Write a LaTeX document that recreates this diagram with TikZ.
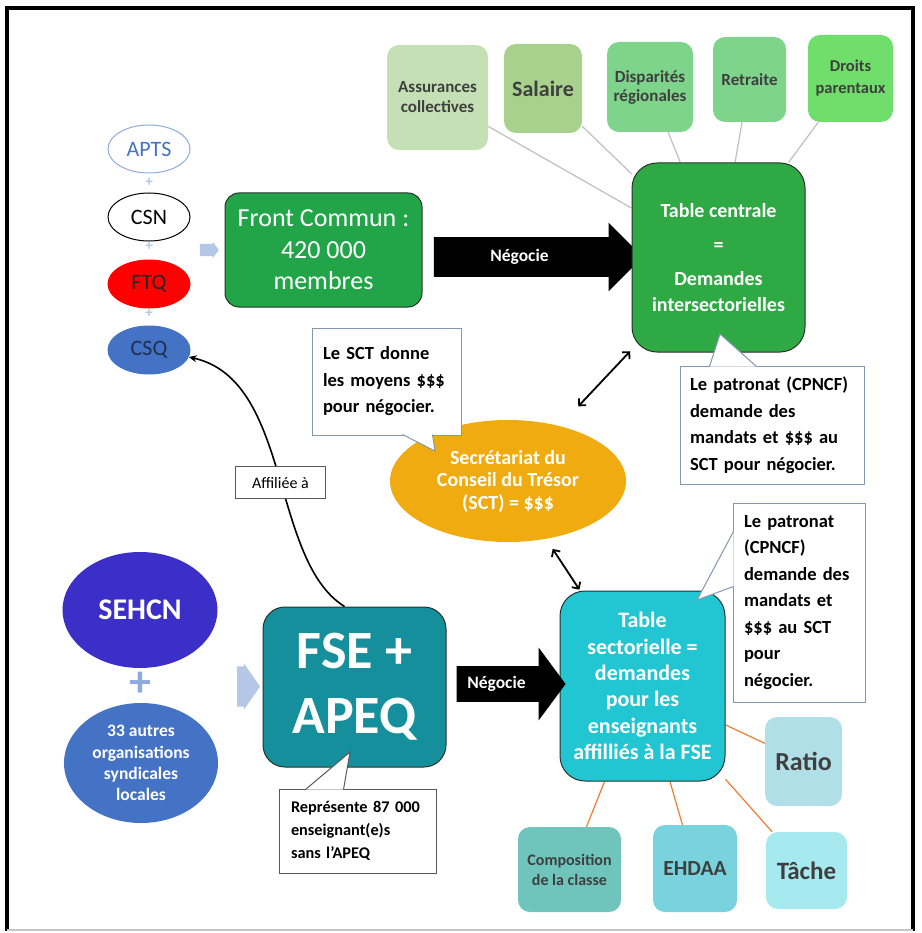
\documentclass[tikz,border=0pt]{standalone}
\usepackage{fontspec}
\setmainfont{Carlito}
\usetikzlibrary{positioning, shapes.geometric, shapes.arrows, arrows.meta, backgrounds}

\newcommand{\fsz}[2]{\fontsize{#1}{#2}\selectfont}

\definecolor{plusblue}{HTML}{B4C7E7}
\definecolor{aptsline}{HTML}{8FAADC}
\definecolor{unionblue}{HTML}{4472C4}
\definecolor{csqtext}{HTML}{1F2F4F}
\definecolor{frontgreen}{HTML}{21A548}
\definecolor{centralgreen}{HTML}{2EA944}
\definecolor{boxedge}{HTML}{25332B}
\definecolor{assurgreen}{HTML}{C5E0B4}
\definecolor{salairegreen}{HTML}{A9D18E}
\definecolor{dispargreen}{HTML}{7DD48A}
\definecolor{retraitegreen}{HTML}{7FD48C}
\definecolor{droitsgreen}{HTML}{70DE6A}
\definecolor{sctorange}{HTML}{EFAB10}
\definecolor{notegray}{HTML}{8497B0}
\definecolor{fsegray}{HTML}{595959}
\definecolor{sectcyan}{HTML}{22C6D3}
\definecolor{fseteal}{HTML}{148F9B}
\definecolor{sehcnblue}{HTML}{3B2FC8}
\definecolor{compoteal}{HTML}{6FC5BC}
\definecolor{ehdaacyan}{HTML}{78D3DE}
\definecolor{tachecyan}{HTML}{A6E9EF}
\definecolor{ratiocyan}{HTML}{B1DFE8}
\definecolor{spokegray}{HTML}{BFBFBF}
\definecolor{spokeorange}{HTML}{ED7D31}
\definecolor{topictext}{HTML}{3F3F3F}

\begin{document}
\begin{tikzpicture}[
  x = 1pt, y = -1pt,
  > = {Stealth[length=8pt, width=7pt]},
  every node/.style = {inner sep = 0pt}
  ]

  \tikzstyle{unionell}=[ellipse, minimum width=82pt, minimum height=48pt, line width=1pt, font=\fsz{22}{26}]
  \tikzstyle{plussign}=[text=plusblue, font=\fsz{15}{15}\bfseries]
  \tikzstyle{bigbox}=[rectangle, draw=boxedge, line width=1pt, align=center, text=white]
  \tikzstyle{demand}=[rectangle, rounded corners=12pt, align=center, text=topictext]
  \tikzstyle{callbox}=[rectangle, fill=white, line width=1pt, align=left, text=black, font=\fsz{18.5}{26.5}\bfseries]
  \tikzstyle{calltip}=[fill=white, line width=1pt, line join=miter]
  \tikzstyle{negotiate}=[single arrow, fill=black, text=white, font=\fsz{17.5}{20}\bfseries]
  \tikzstyle{feedarrow}=[single arrow, fill=plusblue]
  \tikzstyle{spoke}=[line width=1.2pt]
  \tikzstyle{link}=[<->, >={Straight Barb[length=5pt, width=10pt]}, line width=1.8pt]

  \useasboundingbox (0,0) rectangle (921,933);

  % frame
  \draw[black, line width=3.5pt] (7,931) -- (7,8) -- (913,8) -- (913,931);
  \draw[gray!45, line width=2.5pt] (7,930) -- (913,930);

  % unions of the Front commun
  \node[unionell, draw=aptsline, text=unionblue] (apts) at (149,149) {APTS};
  \node[unionell, draw=black] (csn) [below=19pt of apts] {CSN};
  \node[unionell, draw=red, fill=red, text=black!85] (ftq) [below=18pt of csn] {FTQ};
  \node[unionell, draw=unionblue, fill=unionblue, text=csqtext] (csq) [below=17pt of ftq] {CSQ};
  \node[plussign] (p1) at (149,182) {+};
  \node[plussign] (p2) at (149,246) {+};
  \node[plussign] (p3) at (149,313) {+};
  \node[feedarrow, minimum height=19pt, inner ysep=6pt, single arrow head extend=2pt,
    single arrow tip angle=106] (f1) at (207,250) {};

  \node[bigbox, fill=frontgreen, rounded corners=14pt, minimum width=197pt, minimum height=114pt,
    font=\fsz{26}{31.5}] (front) at (323.5,250) {Front Commun :\\420 000\\membres};
  \node[negotiate, minimum height=209pt, inner ysep=12pt, single arrow head extend=14.5pt,
    single arrow tip angle=90] (neg1) at (528.5,257) {N\'egocie\hspace*{18pt}};

  \node[bigbox, fill=centralgreen, rounded corners=25pt, minimum width=173pt, minimum height=189pt,
    font=\fsz{20}{26}\bfseries] (tcent) at (718.5,257.5)
    {Table centrale\\[8pt]=\\[8pt]Demandes\\intersectorielles};

  % intersectoral demands
  \node[demand, fill=assurgreen, minimum width=101pt, minimum height=105pt, font=\fsz{17}{20}\bfseries] (assur) at (437.5,97.5) {Assurances\\collectives};
  \node[demand, fill=salairegreen, minimum width=78pt, minimum height=89pt, font=\fsz{22}{26}\bfseries] (salaire) at (543,88.5) {Salaire};
  \node[demand, fill=dispargreen, minimum width=86pt, minimum height=90pt, font=\fsz{17}{19}\bfseries] (dispar) at (650,87) {Disparit\'es\\r\'egionales};
  \node[demand, fill=retraitegreen, minimum width=73pt, minimum height=85pt, font=\fsz{17}{20}\bfseries] (retraite) at (749.5,79.5) {Retraite};
  \node[demand, fill=droitsgreen, minimum width=85pt, minimum height=87pt, font=\fsz{16.5}{22}\bfseries] (droits) at (850.5,78.5) {Droits\\parentaux};

  % treasury
  \node[ellipse, fill=sctorange, minimum width=236pt, minimum height=122pt, align=center, text=white,
    font=\fsz{20}{22.5}\bfseries] (sct) at (508,481) {Secr\'etariat du\\Conseil du Tr\'esor\\(SCT) = \$\$\$};

  % sectoral table
  \node[bigbox, fill=sectcyan, rounded corners=25pt, minimum width=165pt, minimum height=190pt,
    font=\fsz{22}{26.3}\bfseries] (tsect) at (642.5,686)
    {Table\\sectorielle =\\demandes\\pour les\\enseignants\\affilli\'es \`a la FSE};

  \node[demand, fill=compoteal, minimum width=103pt, minimum height=85pt, font=\fsz{16}{20}\bfseries] (compo) at (569.5,869.5) {Composition\\de la classe};
  \node[demand, fill=ehdaacyan, minimum width=84pt, minimum height=87pt, font=\fsz{21.5}{24}\bfseries] (ehdaa) at (695,868.5) {EHDAA};
  \node[demand, fill=tachecyan, minimum width=81pt, minimum height=77pt, font=\fsz{25}{28}\bfseries] (tache) at (806.5,870.5) {T\^ache};
  \node[demand, fill=ratiocyan, minimum width=77pt, minimum height=89pt, font=\fsz{26}{28}\bfseries] (ratio) at (803.5,761.5) {Ratio};

  % local unions
  \node[ellipse, fill=sehcnblue, minimum width=155pt, minimum height=116pt, text=white,
    font=\fsz{30}{34}\bfseries] (sehcn) at (140,610) {SEHCN};
  \node[text=aptsline, font=\fsz{44}{44}\bfseries] (p4) at (140,684) {+};
  \node[ellipse, fill=unionblue, minimum width=154pt, minimum height=120pt, align=center, text=white,
    font=\fsz{17.5}{21.3}\bfseries] (autres) at (141,763) {33 autres\\organisations\\syndicales\\locales};
  \node[feedarrow, minimum height=23pt, inner ysep=20pt, single arrow head extend=3pt,
    single arrow tip angle=110] (f2) at (241.5,686.5) {};

  \node[bigbox, fill=fseteal, rounded corners=22pt, minimum width=183pt, minimum height=160pt,
    font=\fsz{54}{65}\bfseries] (fse) at (354.5,687) {FSE +\\APEQ};
  \node[negotiate, minimum height=109pt, inner ysep=10pt, single arrow head extend=18.5pt,
    single arrow tip angle=107] (neg2) at (504.5,684) {N\'egocie\hspace*{16pt}};

  % spokes
  \begin{scope}[on background layer]
    \foreach \d in {assur, salaire, dispar, retraite, droits}
      \draw[spoke, spokegray] (tcent) -- (\d);
    \foreach \d in {compo, ehdaa, tache, ratio}
      \draw[spoke, spokeorange] (tsect) -- (\d);
  \end{scope}

  % links
  \draw[link, shorten <=27pt, shorten >=2pt] (sct) -- (tcent);
  \draw[link, shorten <=12pt, shorten >=1pt] (sct) -- (tsect);
  \draw[->, line width=1.6pt] ([xshift=-10pt]fse.north) .. controls (270,560) and (292,380) .. (csq.-10)
    node[pos=.47, draw=fsegray, fill=white, line width=1pt, minimum width=90pt, minimum height=32pt,
      font=\fsz{16}{18}] (affil) {Affili\'ee \`a};

  % notes
  \node[callbox, draw=notegray, text width=127pt, inner xsep=11pt, minimum height=107pt] (sctnote) at (386.5,381.5)
    {Le SCT donne\\les moyens \$\$\$\\pour n\'egocier.};
  \coordinate (scttip) at (435,451);
  \filldraw[calltip, draw=notegray] ([xshift=91pt, yshift=1pt]sctnote.south west) -- (scttip) -- ([xshift=121pt, yshift=1pt]sctnote.south west);

  \node[callbox, draw=notegray, text width=164pt, inner xsep=10pt, minimum height=118pt] (centralnote) at (772,425)
    {Le patronat (CPNCF)\\demande des\\mandats et \$\$\$ au\\SCT pour n\'egocier.};
  \coordinate (centraltip) at (720,334);
  \filldraw[calltip, draw=notegray] ([xshift=30pt, yshift=-1pt]centralnote.north west) -- (centraltip) -- ([xshift=77pt, yshift=-1pt]centralnote.north west);

  \node[callbox, draw=notegray, text width=110pt, inner xsep=11pt, minimum height=199pt] (sectornote) at (799,602.5)
    {Le patronat\\(CPNCF)\\demande des\\mandats et\\\$\$\$ au SCT\\pour\\n\'egocier.};
  \coordinate (sectortip) at (697,600);
  \filldraw[calltip, draw=notegray] ([xshift=1pt, yshift=-29pt]sectornote.north west) -- (sectortip) -- ([xshift=1pt, yshift=-84pt]sectornote.north west);

  \node[callbox, draw=fsegray, text width=133pt, inner xsep=12pt, minimum height=84pt,
    font=\fsz{16.3}{23.3}\bfseries] (fsenote) at (357.5,831)
    {Repr\'esente 87 000\\enseignant(e)s\\sans l'APEQ};
  \coordinate (fsetip) at (350,752);
  \filldraw[calltip, draw=fsegray] ([xshift=27pt, yshift=-1pt]fsenote.north west) -- (fsetip) -- ([xshift=65pt, yshift=-1pt]fsenote.north west);

\end{tikzpicture}
\end{document}
